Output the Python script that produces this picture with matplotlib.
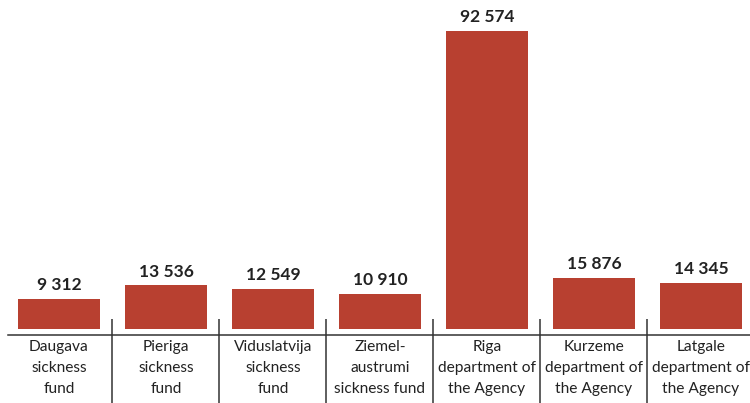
import numpy as np
import matplotlib
matplotlib.use("Agg")
import matplotlib.pyplot as plt

# data
categories = [
    "Daugava\nsickness\nfund",
    "Pieriga\nsickness\nfund",
    "Viduslatvija\nsickness\nfund",
    "Ziemel-\naustrumi\nsickness fund",
    "Riga\ndepartment of\nthe Agency",
    "Kurzeme\ndepartment of\nthe Agency",
    "Latgale\ndepartment of\nthe Agency",
]
values = [9312, 13536, 12549, 10910, 92574, 15876, 14345]
value_labels = ["9 312", "13 536", "12 549", "10 910", "92 574", "15 876", "14 345"]

bar_color = "#b84030"
text_color = "#222222"
line_color = "#333333"

plt.rcParams["font.family"] = ["Lato", "DejaVu Sans"]

fig = plt.figure(figsize=(7.5, 4.03), dpi=100)
ax = fig.add_axes([0, 0, 1, 1])

x = np.arange(len(values))
ax.bar(x, values, width=0.766, color=bar_color)

# axes span the whole figure, bar bottoms sit ~74 px above the image bottom
ax.set_xlim(-0.551, 6.458)
ax.set_ylim(-22988, 102205)
ax.axis("off")

# baseline slightly below bar bottoms
ax.axhline(-1864, xmin=8 / 750, xmax=1, color=line_color, lw=1.1)
# separators between categories
ax.vlines(x[:-1] + 0.5, -22988, 3107, color=line_color, lw=1.1)

for xi, v, lab in zip(x, values, value_labels):
    ax.annotate(lab, (xi, v), xytext=(0, 4), textcoords="offset points",
                ha="center", va="bottom", fontsize=12.5, fontweight="bold",
                color=text_color)

for xi, cat in zip(x, categories):
    ax.text(xi, 1 - 340 / 403, cat, transform=ax.get_xaxis_transform(),
            ha="center", va="top", fontsize=11.2, color=text_color,
            linespacing=1.62)

fig.savefig("out.png", dpi=100)
